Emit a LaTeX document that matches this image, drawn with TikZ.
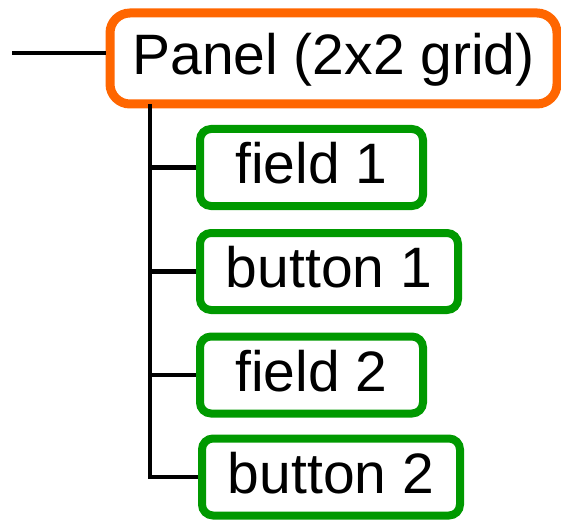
\documentclass[tikz,border=0pt]{standalone}
\usepackage{fontspec}
\setmainfont{Liberation Sans}
\definecolor{panelorange}{HTML}{FF6600}
\definecolor{itemgreen}{HTML}{009900}

\begin{document}
\begin{tikzpicture}[x=1pt, y=1pt, line cap=butt,
                    panelbox/.style={draw=panelorange, line width=9pt,
                      rounded corners=20pt, inner sep=0pt,
                      minimum width=447pt, minimum height=91pt,
                      text height=41pt, text depth=9pt},
                    itembox/.style={draw=itemgreen, line width=8pt,
                      rounded corners=11pt, inner sep=0pt,
                      minimum height=77pt,
                      text height=41pt, text depth=9pt},
                    fieldbox/.style={itembox, minimum width=223pt},
                    buttonbox/.style={itembox, minimum width=258pt},
                    link/.style={draw=black, line width=4.5pt}
                   ]
\fontsize{57}{68}\selectfont
\useasboundingbox (0,0) rectangle (561,520);

\node [panelbox]  (panel)   at (333.5,461.5) {Panel (2x2 grid)};
\node [fieldbox]  (field1)  at (311.5,352.5) {field 1};
\node [buttonbox] (button1) at (329,248.5)   {button 1};
\node [fieldbox]  (field2)  at (311.5,145)   {field 2};
\node [buttonbox] (button2) at (331,43)      {button 2};

\coordinate (in) at (12,467);
\coordinate (trunk) at (150,416);

\draw [link] (in) -- (in -| panel.west);
\draw [link] (trunk) |- (button2.west);
\foreach \item in {field1,button1,field2}{
    \draw [link] (trunk |- \item.west) -- (\item.west);
}
\end{tikzpicture}
\end{document}
